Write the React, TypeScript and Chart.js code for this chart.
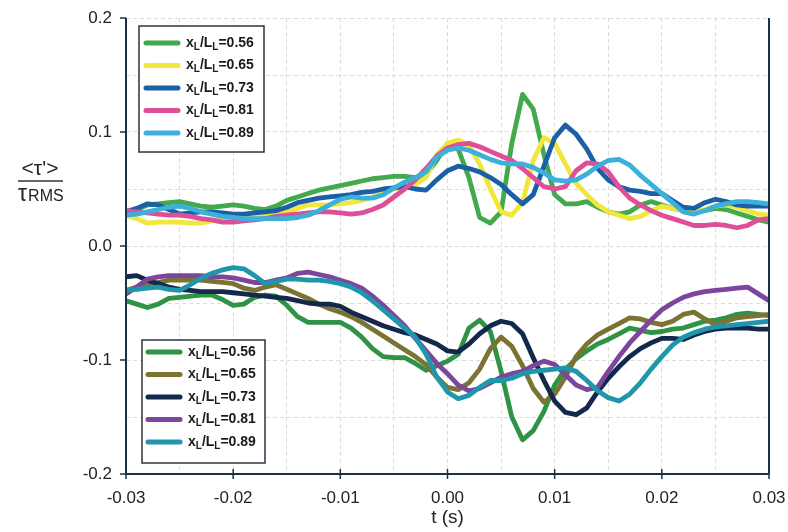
import { useEffect, useRef } from 'react';
import { Chart, registerables } from 'chart.js';

Chart.register(...registerables);

// time axis (ms), converted to seconds below
const TIME_MS = [-30, -29, -28, -27, -26, -25, -24, -23, -22, -21, -20, -19, -18, -17, -16, -15, -14, -13, -12, -11, -10, -9, -8, -7, -6, -5, -4, -3, -2, -1, 0, 1, 2, 3, 4, 5, 6, 7, 8, 9, 10, 11, 12, 13, 14, 15, 16, 17, 18, 19, 20, 21, 22, 23, 24, 25, 26, 27, 28, 29, 30];

const LABELS = ['0.56', '0.65', '0.73', '0.81', '0.89'];

// upper family (positive)
const UP_056 = [0.029, 0.032, 0.036, 0.037, 0.038, 0.039, 0.037, 0.035, 0.034, 0.035, 0.036, 0.035, 0.033, 0.032, 0.035, 0.040, 0.043, 0.046, 0.049, 0.051, 0.053, 0.055, 0.057, 0.059, 0.060, 0.061, 0.061, 0.060, 0.063, 0.075, 0.090, 0.085, 0.060, 0.025, 0.020, 0.030, 0.090, 0.133, 0.120, 0.080, 0.045, 0.037, 0.037, 0.039, 0.034, 0.030, 0.028, 0.030, 0.036, 0.039, 0.036, 0.033, 0.031, 0.030, 0.031, 0.033, 0.032, 0.029, 0.026, 0.023, 0.021];
const UP_065 = [0.027, 0.024, 0.020, 0.021, 0.021, 0.021, 0.020, 0.020, 0.022, 0.024, 0.025, 0.026, 0.027, 0.028, 0.029, 0.030, 0.033, 0.036, 0.036, 0.036, 0.037, 0.038, 0.040, 0.043, 0.047, 0.050, 0.052, 0.054, 0.060, 0.080, 0.090, 0.093, 0.088, 0.072, 0.050, 0.030, 0.027, 0.038, 0.075, 0.095, 0.090, 0.072, 0.055, 0.045, 0.036, 0.030, 0.027, 0.024, 0.026, 0.031, 0.035, 0.033, 0.031, 0.030, 0.032, 0.035, 0.036, 0.034, 0.031, 0.028, 0.027];
const UP_073 = [0.030, 0.033, 0.037, 0.036, 0.032, 0.028, 0.029, 0.030, 0.030, 0.029, 0.028, 0.028, 0.029, 0.030, 0.031, 0.034, 0.038, 0.040, 0.042, 0.043, 0.044, 0.045, 0.047, 0.048, 0.050, 0.051, 0.052, 0.050, 0.049, 0.058, 0.066, 0.070, 0.068, 0.065, 0.060, 0.054, 0.045, 0.037, 0.045, 0.070, 0.095, 0.106, 0.098, 0.085, 0.068, 0.058, 0.052, 0.049, 0.048, 0.046, 0.046, 0.040, 0.034, 0.033, 0.038, 0.041, 0.039, 0.036, 0.035, 0.035, 0.035];
const UP_081 = [0.031, 0.030, 0.029, 0.028, 0.027, 0.027, 0.026, 0.024, 0.023, 0.021, 0.021, 0.022, 0.023, 0.024, 0.026, 0.027, 0.028, 0.029, 0.030, 0.030, 0.029, 0.028, 0.029, 0.032, 0.036, 0.043, 0.050, 0.058, 0.068, 0.079, 0.086, 0.089, 0.090, 0.087, 0.083, 0.079, 0.075, 0.068, 0.060, 0.052, 0.050, 0.052, 0.066, 0.073, 0.072, 0.065, 0.052, 0.042, 0.036, 0.031, 0.027, 0.024, 0.021, 0.018, 0.018, 0.019, 0.018, 0.016, 0.018, 0.023, 0.024];
const UP_089 = [0.027, 0.028, 0.030, 0.032, 0.034, 0.035, 0.033, 0.030, 0.028, 0.026, 0.025, 0.024, 0.024, 0.024, 0.024, 0.024, 0.025, 0.027, 0.031, 0.036, 0.041, 0.043, 0.042, 0.042, 0.045, 0.051, 0.056, 0.060, 0.065, 0.078, 0.084, 0.086, 0.084, 0.080, 0.076, 0.073, 0.072, 0.072, 0.069, 0.064, 0.058, 0.057, 0.058, 0.063, 0.070, 0.075, 0.076, 0.071, 0.062, 0.054, 0.046, 0.038, 0.030, 0.028, 0.031, 0.035, 0.037, 0.039, 0.039, 0.038, 0.037];

// lower family (negative)
const LO_056 = [-0.048, -0.051, -0.054, -0.051, -0.046, -0.045, -0.044, -0.043, -0.043, -0.047, -0.052, -0.051, -0.045, -0.043, -0.044, -0.052, -0.062, -0.067, -0.067, -0.067, -0.067, -0.072, -0.080, -0.090, -0.097, -0.098, -0.098, -0.103, -0.109, -0.105, -0.101, -0.095, -0.072, -0.065, -0.075, -0.110, -0.150, -0.170, -0.162, -0.145, -0.122, -0.108, -0.099, -0.092, -0.086, -0.082, -0.077, -0.072, -0.074, -0.076, -0.075, -0.073, -0.072, -0.069, -0.066, -0.065, -0.063, -0.060, -0.059, -0.060, -0.061];
const LO_065 = [-0.039, -0.036, -0.034, -0.032, -0.030, -0.030, -0.030, -0.030, -0.031, -0.032, -0.033, -0.037, -0.039, -0.036, -0.034, -0.038, -0.042, -0.046, -0.051, -0.055, -0.058, -0.062, -0.067, -0.073, -0.079, -0.085, -0.091, -0.097, -0.104, -0.115, -0.124, -0.126, -0.120, -0.108, -0.090, -0.080, -0.088, -0.105, -0.125, -0.137, -0.130, -0.115, -0.097, -0.086, -0.078, -0.073, -0.068, -0.063, -0.064, -0.067, -0.069, -0.066, -0.060, -0.058, -0.064, -0.069, -0.066, -0.063, -0.062, -0.061, -0.060];
const LO_073 = [-0.027, -0.026, -0.030, -0.033, -0.036, -0.038, -0.039, -0.040, -0.040, -0.040, -0.041, -0.042, -0.043, -0.044, -0.045, -0.046, -0.048, -0.050, -0.051, -0.051, -0.053, -0.058, -0.062, -0.066, -0.070, -0.073, -0.076, -0.078, -0.082, -0.086, -0.092, -0.093, -0.086, -0.077, -0.070, -0.066, -0.068, -0.077, -0.098, -0.118, -0.136, -0.146, -0.148, -0.142, -0.128, -0.116, -0.106, -0.097, -0.090, -0.085, -0.081, -0.081, -0.082, -0.078, -0.075, -0.073, -0.072, -0.072, -0.072, -0.073, -0.073];
const LO_081 = [-0.042, -0.036, -0.029, -0.027, -0.026, -0.026, -0.026, -0.026, -0.027, -0.027, -0.028, -0.030, -0.032, -0.032, -0.030, -0.028, -0.024, -0.023, -0.025, -0.027, -0.030, -0.033, -0.037, -0.044, -0.052, -0.061, -0.070, -0.081, -0.092, -0.103, -0.112, -0.122, -0.127, -0.125, -0.120, -0.115, -0.112, -0.110, -0.105, -0.101, -0.104, -0.113, -0.122, -0.126, -0.124, -0.110, -0.097, -0.085, -0.075, -0.065, -0.056, -0.050, -0.045, -0.042, -0.040, -0.039, -0.038, -0.037, -0.036, -0.042, -0.048];
const LO_089 = [-0.039, -0.038, -0.037, -0.036, -0.038, -0.039, -0.034, -0.028, -0.024, -0.021, -0.019, -0.020, -0.026, -0.033, -0.031, -0.029, -0.029, -0.030, -0.030, -0.031, -0.033, -0.036, -0.041, -0.048, -0.056, -0.064, -0.072, -0.080, -0.095, -0.115, -0.128, -0.134, -0.131, -0.124, -0.118, -0.118, -0.116, -0.112, -0.110, -0.109, -0.108, -0.107, -0.110, -0.118, -0.127, -0.133, -0.136, -0.130, -0.120, -0.108, -0.097, -0.087, -0.080, -0.076, -0.073, -0.071, -0.070, -0.069, -0.068, -0.067, -0.066];

const UP_SERIES = [UP_056, UP_065, UP_073, UP_081, UP_089];
const LO_SERIES = [LO_056, LO_065, LO_073, LO_081, LO_089];
const UP_COLORS = ['#43a94c', '#f0e63c', '#1b5fa6', '#de4f98', '#3cb0da'];
const LO_COLORS = ['#2f9346', '#7a7331', '#13284c', '#7e459d', '#1f96ab'];

const FONT = '"Liberation Sans", Arial, sans-serif';
const AXIS_COLOR = '#1d3049';

function drawLegendLabel(ctx: CanvasRenderingContext2D, x: number, y: number, val: string) {
  let cx = x;
  const part = (t: string, sub: boolean) => {
    ctx.font = sub ? `bold 10px ${FONT}` : `bold 14px ${FONT}`;
    ctx.fillText(t, cx, sub ? y + 4 : y);
    cx += ctx.measureText(t).width;
  };
  part('x', false);
  part('L', true);
  part('/L', false);
  part('L', true);
  part('=' + val, false);
}

function drawLegend(ctx: CanvasRenderingContext2D, bx: number, by: number, bw: number, bh: number, colors: string[], firstY: number, gap: number, lx: number) {
  ctx.save();
  ctx.fillStyle = '#ffffff';
  ctx.fillRect(bx, by, bw, bh);
  ctx.strokeStyle = '#2a3340';
  ctx.lineWidth = 1.5;
  ctx.strokeRect(bx, by, bw, bh);
  colors.forEach((c, i) => {
    const y = firstY + i * gap;
    ctx.strokeStyle = c;
    ctx.lineWidth = 5;
    ctx.lineCap = 'round';
    ctx.beginPath();
    ctx.moveTo(lx, y);
    ctx.lineTo(lx + 32, y);
    ctx.stroke();
    ctx.fillStyle = '#1a1a1a';
    ctx.textBaseline = 'middle';
    ctx.textAlign = 'left';
    drawLegendLabel(ctx, lx + 40, y, LABELS[i]);
  });
  ctx.restore();
}

const decorPlugin = {
  id: 'decor',
  afterDraw(chart: any) {
    const ctx: CanvasRenderingContext2D = chart.ctx;
    const { left, right, top, bottom } = chart.chartArea;
    const xs = chart.scales.x;
    const ys = chart.scales.y;
    ctx.save();
    // axes
    ctx.strokeStyle = AXIS_COLOR;
    ctx.lineWidth = 2;
    ctx.beginPath();
    ctx.moveTo(left, top);
    ctx.lineTo(left, bottom);
    ctx.lineTo(right, bottom);
    ctx.moveTo(right, top);
    ctx.lineTo(right, bottom);
    ctx.stroke();
    // tick marks
    ctx.lineWidth = 1.5;
    ctx.beginPath();
    [-0.2, -0.1, 0, 0.1, 0.2].forEach((v) => {
      const py = ys.getPixelForValue(v);
      ctx.moveTo(left - 6, py);
      ctx.lineTo(left + (v === -0.2 ? 5 : 0), py);
    });
    [-0.03, -0.02, -0.01, 0, 0.01, 0.02, 0.03].forEach((v) => {
      const px = xs.getPixelForValue(v);
      ctx.moveTo(px, bottom - 5);
      ctx.lineTo(px, bottom + 5);
    });
    ctx.stroke();

    // x title
    ctx.fillStyle = '#222';
    ctx.font = `19px ${FONT}`;
    ctx.textAlign = 'center';
    ctx.textBaseline = 'alphabetic';
    ctx.fillText('t (s)', (left + right) / 2, 523);

    // y title (fraction)
    ctx.font = `21px ${FONT}`;
    ctx.textAlign = 'center';
    ctx.fillText("<τ'>", 40, 175);
    ctx.lineWidth = 1.5;
    ctx.strokeStyle = '#333';
    ctx.beginPath();
    ctx.moveTo(18, 181);
    ctx.lineTo(63, 181);
    ctx.stroke();
    ctx.textAlign = 'left';
    ctx.font = `23px ${FONT}`;
    ctx.fillText('τ', 18, 201);
    const tw = ctx.measureText('τ').width;
    ctx.font = `16px ${FONT}`;
    ctx.fillText('RMS', 18 + tw + 1, 201);

    ctx.restore();

    drawLegend(ctx, 139, 26, 125, 126, UP_COLORS, 43, 22.5, 146);
    drawLegend(ctx, 142, 340, 123, 123, LO_COLORS, 352, 22.5, 148);
  },
};

export default function App() {
  const ref = useRef<HTMLCanvasElement | null>(null);
  useEffect(() => {
    document.body.style.margin = '0';
    const canvas = ref.current;
    if (!canvas) return;
    const times = TIME_MS.map((t) => t / 1000);
    const mk = (vals: number[], color: string, order: number) => ({
      data: vals.map((v, i) => ({ x: times[i], y: v })),
      borderColor: color,
      backgroundColor: color,
      borderWidth: 4.8,
      pointRadius: 0,
      tension: 0,
      fill: false,
      order,
      borderJoinStyle: 'round' as const,
      borderCapStyle: 'round' as const,
    });
    const datasets = [
      ...LO_SERIES.map((s, i) => mk(s, LO_COLORS[i], 20 - i)),
      ...UP_SERIES.map((s, i) => mk(s, UP_COLORS[i], 10 - i)),
    ];
    const isMult = (v: number, step: number) => Math.abs(v / step - Math.round(v / step)) < 1e-6;
    const chart = new Chart(canvas, {
      type: 'line',
      data: { datasets },
      options: {
        animation: false,
        responsive: false,
        maintainAspectRatio: false,
        layout: { padding: { top: 18, right: 19, left: 0, bottom: 0 } },
        plugins: { legend: { display: false }, tooltip: { enabled: false } },
        scales: {
          x: {
            type: 'linear',
            min: -0.03,
            max: 0.03,
            afterFit: (s: any) => { s.height = 58; s.paddingLeft = 0; s.paddingRight = 0; },
            grid: { color: '#dcdcdc', lineWidth: 1, drawTicks: false },
            border: { display: false, dash: [4, 3] },
            ticks: {
              stepSize: 0.005,
              autoSkip: false,
              maxRotation: 0,
              padding: 14,
              color: '#222',
              font: { family: FONT, size: 17 },
              callback: (v: any) => (isMult(Number(v), 0.01) ? Number(v).toFixed(2) : ''),
            },
          },
          y: {
            min: -0.2,
            max: 0.2,
            afterFit: (s: any) => { s.width = 126; s.paddingTop = 0; s.paddingBottom = 0; },
            grid: { color: '#dcdcdc', lineWidth: 1, drawTicks: false },
            border: { display: false, dash: [4, 3] },
            ticks: {
              stepSize: 0.05,
              autoSkip: false,
              padding: 14,
              color: '#222',
              font: { family: FONT, size: 17 },
              callback: (v: any) => (isMult(Number(v), 0.1) ? Number(v).toFixed(1) : ''),
            },
          },
        },
      },
      plugins: [decorPlugin],
    });
    return () => chart.destroy();
  }, []);
  return (
    <div style={{ width: 788, height: 532 }}>
      <canvas ref={ref} width={788} height={532} style={{ display: 'block' }} />
    </div>
  );
}
